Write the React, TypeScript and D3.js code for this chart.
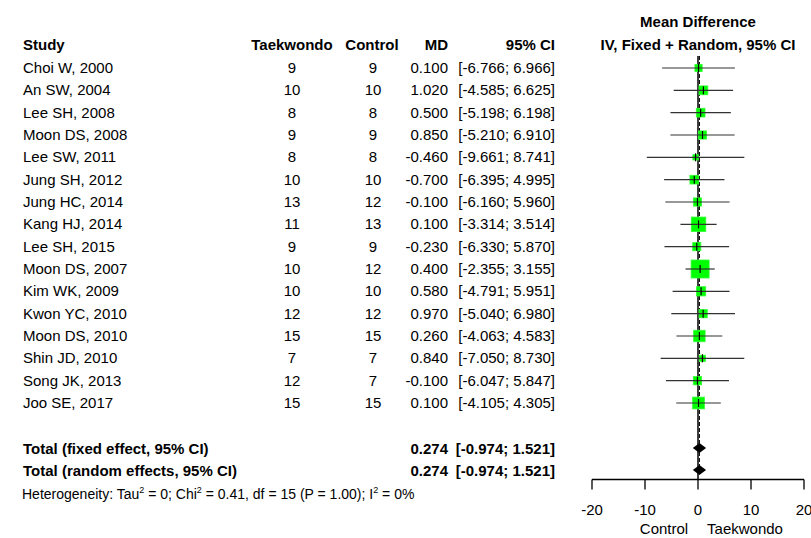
import * as d3 from "d3";

const studies = [
  "Choi W, 2000", "An SW, 2004", "Lee SH, 2008", "Moon DS, 2008", "Lee SW, 2011",
  "Jung SH, 2012", "Jung HC, 2014", "Kang HJ, 2014", "Lee SH, 2015", "Moon DS, 2007",
  "Kim WK, 2009", "Kwon YC, 2010", "Moon DS, 2010", "Shin JD, 2010", "Song JK, 2013", "Joo SE, 2017",
];
const nTaekwondo = [9, 10, 8, 9, 8, 10, 13, 11, 9, 10, 10, 12, 15, 7, 12, 15];
const nControl = [9, 10, 8, 9, 8, 10, 12, 13, 9, 12, 10, 12, 15, 7, 7, 15];
const md = [0.1, 1.02, 0.5, 0.85, -0.46, -0.7, -0.1, 0.1, -0.23, 0.4, 0.58, 0.97, 0.26, 0.84, -0.1, 0.1];
const lower = [-6.766, -4.585, -5.198, -5.21, -9.661, -6.395, -6.16, -3.314, -6.33, -2.355, -4.791, -5.04, -4.063, -7.05, -6.047, -4.105];
const upper = [6.966, 6.625, 6.198, 6.91, 8.741, 4.995, 5.96, 3.514, 5.87, 3.155, 5.951, 6.98, 4.583, 8.73, 5.847, 4.305];
const totals = ["Total (fixed effect, 95% CI)", "Total (random effects, 95% CI)"];
const totalMd = [0.274, 0.274];
const totalLower = [-0.974, -0.974];
const totalUpper = [1.521, 1.521];
const axisTicks = [-20, -10, 0, 10, 20];

const W = 811;
const H = 538;
const font = "'Liberation Sans', Arial, sans-serif";
const fs = 15;

const locale = d3.formatLocale({
  decimal: ".",
  thousands: ",",
  grouping: [3],
  currency: ["", ""],
  minus: "-",
});

export default function App() {
  const x = d3.scaleLinear().domain([-20, 20]).range([592, 804]);
  const y = d3.scaleLinear().domain([0, studies.length - 1]).range([68, 403]);
  const yTot = d3.scaleOrdinal<number, number>().domain([0, 1]).range([448, 470]);
  const axisY = 479.5;

  const widths = upper.map((u, i) => u - lower[i]);
  const maxInv = d3.max(widths, (w) => 1 / w) as number;
  const boxSize = d3.scaleLinear().domain([0, maxInv]).range([0, 18]);

  const fmt = locale.format(".3f");
  const tickFmt = locale.format("d");
  const ci = (l: number, u: number) => `[${fmt(l)}; ${fmt(u)}]`;

  const diamond = (m: number, l: number, u: number, cy: number) =>
    `M${x(l)},${cy} L${x(m)},${cy - 5} L${x(u)},${cy} L${x(m)},${cy + 5} Z`;

  return (
    <svg width={W} height={H} style={{ position: "absolute", left: 0, top: 0, background: "#fff" }} fontFamily={font} fontSize={fs}>
      {/* headers */}
      <g fontWeight="bold">
        <text x={23} y={50}>Study</text>
        <text x={292} y={50} textAnchor="middle">Taekwondo</text>
        <text x={372} y={50} textAnchor="middle">Control</text>
        <text x={448} y={50} textAnchor="end">MD</text>
        <text x={555} y={50} textAnchor="end">95% CI</text>
        <text x={x(0)} y={27} textAnchor="middle">Mean Difference</text>
        <text x={x(0)} y={50} textAnchor="middle">IV, Fixed + Random, 95% CI</text>
      </g>

      {/* reference lines */}
      <line x1={x(0)} x2={x(0)} y1={56} y2={axisY} stroke="#000" strokeWidth={1.5} />
      <line x1={x(totalMd[0])} x2={x(totalMd[0])} y1={56} y2={yTot(1) + 5} stroke="#000" strokeWidth={1} strokeDasharray="4,2" />

      {studies.map((s, i) => {
        const cy = y(i);
        const b = boxSize(1 / widths[i]);
        return (
          <g key={s + i}>
            <text x={23} y={cy + 5}>{s}</text>
            <text x={292} y={cy + 5} textAnchor="middle">{nTaekwondo[i]}</text>
            <text x={373} y={cy + 5} textAnchor="middle">{nControl[i]}</text>
            <text x={448} y={cy + 5} textAnchor="end">{fmt(md[i])}</text>
            <text x={555} y={cy + 5} textAnchor="end">{ci(lower[i], upper[i])}</text>
            <rect x={x(md[i]) - b / 2} y={cy - b / 2} width={b} height={b} fill="#00ff00" stroke="#33ff33" strokeWidth={0.8} />
            <line x1={x(lower[i])} x2={x(upper[i])} y1={cy} y2={cy} stroke="#333" strokeWidth={1.2} />
            <line x1={x(md[i])} x2={x(md[i])} y1={cy - 4} y2={cy + 4} stroke="#000" strokeWidth={1.2} />
          </g>
        );
      })}

      {totals.map((t, i) => {
        const cy = yTot(i);
        return (
          <g key={t} fontWeight="bold">
            <text x={23} y={cy + 6}>{t}</text>
            <text x={448} y={cy + 6} textAnchor="end">{fmt(totalMd[i])}</text>
            <text x={555} y={cy + 6} textAnchor="end">{ci(totalLower[i], totalUpper[i])}</text>
            <path d={diamond(totalMd[i], totalLower[i], totalUpper[i], cy)} fill="#000" />
          </g>
        );
      })}

      <text x={22} y={499} fontSize={14}>
        Heterogeneity: Tau<tspan dy={-6} fontSize={9}>2</tspan>
        <tspan dy={6}> = 0; Chi</tspan><tspan dy={-6} fontSize={9}>2</tspan>
        <tspan dy={6}> = 0.41, df = 15 (P = 1.00); I</tspan><tspan dy={-6} fontSize={9}>2</tspan>
        <tspan dy={6}> = 0%</tspan>
      </text>

      {/* axis */}
      <line x1={x(-20)} x2={x(20)} y1={axisY} y2={axisY} stroke="#000" strokeWidth={1.3} />
      {axisTicks.map((t) => (
        <g key={t}>
          <line x1={x(t)} x2={x(t)} y1={axisY} y2={axisY + 10} stroke="#000" strokeWidth={1.3} />
          <text x={x(t)} y={515} textAnchor="middle">{tickFmt(t)}</text>
        </g>
      ))}
      <text x={664} y={534} textAnchor="middle">Control</text>
      <text x={745} y={534} textAnchor="middle">Taekwondo</text>
    </svg>
  );
}
